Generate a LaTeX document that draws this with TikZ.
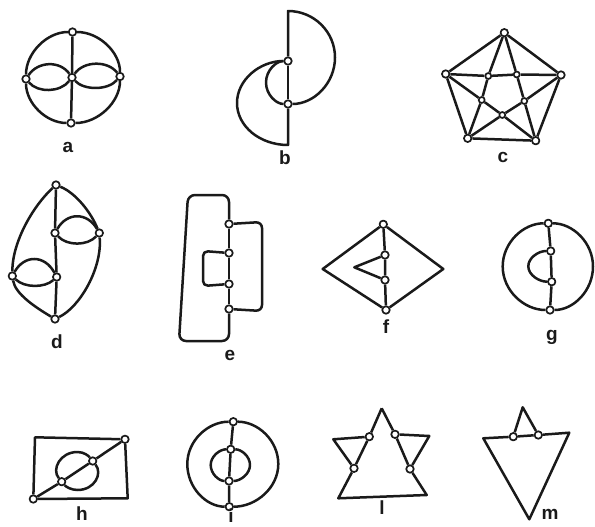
\documentclass[tikz,border=0pt]{standalone}
\usepackage{fontspec}
\setsansfont{Liberation Sans}
\usepackage{tikz}
\definecolor{inkblack}{HTML}{1A1A1A}
\tikzset{every node/.append style={font=\sffamily\bfseries\fontsize{19}{19}\selectfont}}

\begin{document}
\begin{tikzpicture}[x=1pt,y=-1pt,line width=2.5pt,line join=round,color=inkblack,
  vtx/.style={circle,draw=inkblack,fill=white,line width=1.7pt,inner sep=0pt,minimum size=7.5pt},
  svtx/.style={vtx,minimum size=6pt},
  lbl/.style={inner sep=0pt,text=inkblack}]
\useasboundingbox (0,0) rectangle (595,527);
% a
\node[vtx] (aT) at (72.5,32) {}; \node[vtx] (aR) at (120,76.5) {};
\node[vtx] (aB) at (71,123) {}; \node[vtx] (aL) at (26,79) {};
\node[vtx] (aC) at (72,77.5) {};
\draw (aT) -- (aC) -- (aB);
\draw (aT) .. controls +(26.2,0) and +(0,-24.6) .. (aR);
\draw (aR) .. controls +(0,25.7) and +(27,0) .. (aB);
\draw (aB) .. controls +(-24.8,0) and +(0,24.3) .. (aL);
\draw (aL) .. controls +(0,-25.9) and +(-25.7,0) .. (aT);
\draw (aL) .. controls +(12,-18) and +(-12,-17) .. (aC);
\draw (aL) .. controls +(12,14) and +(-12,15) .. (aC);
\draw (aC) .. controls +(12,-17) and +(-12,-16) .. (aR);
\draw (aC) .. controls +(12,13) and +(-12,14) .. (aR);
\node[lbl] (alab) at (68,147) {a};
% b
\coordinate (bTop) at (288,11); \coordinate (bBot) at (288,145);
\node[vtx] (bU) at (288,61) {}; \node[vtx] (bD) at (288,104) {};
\draw (bU) -- (bD);
\draw (bU) -- (bTop) .. controls +(26,0) and +(0,-25.7) .. (335,57.5) .. controls +(0,25.7) and +(26,0) .. (bD);
\draw (bD) -- (bBot) .. controls +(-28.2,0) and +(0,23.2) .. (237,103) .. controls +(0,-23.2) and +(-28.2,0) .. (bU);
\draw (bU) .. controls +(-12,0) and +(0,-11.9) .. (266,82.5) .. controls +(0,11.9) and +(-12,0) .. (bD);
\node[lbl] (blab) at (285,158) {b};
% c
\node[vtx] (cT) at (504.3,32.7) {}; \node[vtx] (cL) at (445.7,74) {};
\node[vtx] (cR) at (561,75) {}; \node[vtx] (cBL) at (467.7,138.3) {};
\node[vtx] (cBR) at (535.7,140.7) {};
\node[svtx] (cUL) at (488.3,76) {}; \node[svtx] (cUR) at (516.7,74.5) {};
\node[svtx] (cLL) at (481.7,100) {}; \node[svtx] (cLR) at (524.3,101) {};
\node[svtx] (cB) at (502.3,115) {};
\draw (cT) -- (cR) -- (cBR) -- (cBL) -- (cL) -- (cT);
\draw (cL) -- (cUL) -- (cUR) -- (cR);
\draw (cT) -- (cUL) -- (cLL) -- (cBL);
\draw (cT) -- (cUR) -- (cLR) -- (cBR);
\draw (cL) -- (cLL) -- (cB) -- (cBR);
\draw (cR) -- (cLR) -- (cB) -- (cBL);
\node[lbl] (clab) at (503,157) {c};
% d
\node[vtx] (dT) at (56,185) {}; \node[vtx] (dM1) at (55,233) {};
\node[vtx] (dR) at (99.3,233) {}; \node[vtx] (dL) at (12.3,276) {};
\node[vtx] (dM2) at (56.7,277) {}; \node[vtx] (dB) at (55,319) {};
\draw (dT) -- (dM1) -- (dM2) -- (dB);
\draw (dT) .. controls +(-22,20) and +(0,-35) .. (dL);
\draw (dL) .. controls +(3,18) and +(-20,-12) .. (dB);
\draw (dT) .. controls +(20,8) and +(-8,-20) .. (dR);
\draw (dR) .. controls +(3,35) and +(25,-12) .. (dB);
\draw (dM1) .. controls +(12,-21) and +(-12,-21) .. (dR);
\draw (dM1) .. controls +(12,13) and +(-12,13) .. (dR);
\draw (dL) .. controls +(12,-21.5) and +(-12,-22.5) .. (dM2);
\draw (dL) .. controls +(12,12) and +(-12,11) .. (dM2);
\node[lbl] (dlab) at (57,342) {d};
% e
\node[vtx] (e1) at (229,224) {}; \node[vtx] (e2) at (229,253) {};
\node[vtx] (e3) at (229,284) {}; \node[vtx] (e4) at (229,309) {};
\draw (e1) -- (e2) -- (e3) -- (e4);
\draw[rounded corners=7] (e1) -- (229,195) -- (188,195) -- (179,341) -- (229,341) -- (e4);
\draw[rounded corners=6] (e1) -- (262,222) -- (262,311) -- (e4);
\draw[rounded corners=5] (e2) -- (203,251) -- (203,286) -- (e3);
\node[lbl] (elab) at (230,355) {e};
% f
\coordinate (fL) at (322.7,269); \coordinate (fR) at (443.3,269); \coordinate (fTip) at (354.3,267.3);
\node[vtx] (fT) at (383.3,224.3) {}; \node[vtx] (f2) at (385,255) {};
\node[vtx] (f3) at (385,280) {}; \node[vtx] (fB) at (386,310) {};
\draw (fT) -- (f2) -- (f3) -- (fB);
\draw (fT) -- (fL) -- (fB) -- (fR) -- (fT);
\draw (f2) -- (fTip) -- (f3);
\node[lbl] (flab) at (386,327) {f};
% g
\node[vtx] (gT) at (548.3,223.3) {}; \node[vtx] (g2) at (550.7,251) {};
\node[vtx] (g3) at (551.7,281.7) {}; \node[vtx] (gB) at (550,310) {};
\draw (gT) -- (g2) -- (g3) -- (gB);
\draw (gT) .. controls +(24.7,0) and +(0,-23.8) .. (593,266.5) .. controls +(0,24) and +(23.7,0) .. (gB);
\draw (gT) .. controls +(-25.2,0) and +(0,-23.8) .. (502.7,266.5) .. controls +(0,24) and +(-26.1,0) .. (gB);
\draw (g2) .. controls +(-12.4,0) and +(0,-8.4) .. (528.3,266.3) .. controls +(0,8.5) and +(-12.9,0) .. (g3);
\node[lbl] (glab) at (552,337) {g};
% h
\node[vtx] (hA) at (33.3,499) {}; \node[vtx] (hB) at (125,439.3) {};
\node[vtx] (h1) at (61.7,481.7) {}; \node[vtx] (h2) at (92.7,461) {};
\draw (hA) -- (35,437.3) -- (hB) -- (127.7,498.3) -- (hA);
\draw (hA) -- (h1) -- (h2) -- (hB);
\draw (h1) .. controls +(-10.4,-12.5) and +(-17.3,0) .. (77.5,452) .. controls +(6.7,0) and +(-3.9,-4.9) .. (h2);
\draw (h2) .. controls +(10.1,12.6) and +(17.2,0) .. (77.5,490) .. controls +(-6.6,0) and +(4,4.8) .. (h1);
\node[lbl] (hlab) at (82,514) {h};
% i
\node[vtx] (iT) at (233.3,421.7) {}; \node[vtx] (i2) at (230.7,449.3) {};
\node[vtx] (i3) at (229,481) {}; \node[vtx] (iB) at (229.3,506.7) {};
\draw (iT) -- (i2) -- (i3) -- (iB);
\draw (iT) .. controls +(24.8,0) and +(0,-23.4) .. (278.3,464) .. controls +(0,23.6) and +(27,0) .. (iB);
\draw (iT) .. controls +(-25.4,0) and +(0,-23.4) .. (187.3,464) .. controls +(0,23.6) and +(-23.2,0) .. (iB);
\draw (i2) .. controls +(10.7,0) and +(0,-8.7) .. (250,465) .. controls +(0,8.8) and +(11.6,0) .. (i3);
\draw (i2) .. controls +(-11,0) and +(0,-8.7) .. (210.7,465) .. controls +(0,8.8) and +(-10.1,0) .. (i3);
\node[lbl] (ilab) at (231,516) {i};
% l
\coordinate (lA) at (381.7,408.3); \coordinate (lBL) at (338.3,498.3); \coordinate (lBR) at (426.7,495);
\coordinate (lCL) at (333.3,439.3); \coordinate (lCR) at (429.3,436);
\node[vtx] (lUL) at (369.3,436.7) {}; \node[vtx] (lUR) at (395,434.3) {};
\node[vtx] (lLL) at (354,468.3) {}; \node[vtx] (lLR) at (410,469) {};
\draw (lA) -- (lUL) -- (lLL) -- (lBL) -- (lBR) -- (lLR) -- (lUR) -- (lA);
\draw (lUL) -- (lCL) -- (lLL);
\draw (lUR) -- (lCR) -- (lLR);
\node[lbl] (llab) at (382,508) {l};
% m
\coordinate (mA) at (522.7,407.3); \coordinate (mTL) at (483.3,438.3);
\coordinate (mTR) at (569.3,432.7); \coordinate (mBot) at (529.3,519.3);
\node[vtx] (m1) at (513.3,436.7) {}; \node[vtx] (m2) at (538.3,435) {};
\draw (m2) -- (mTR) -- (mBot) -- (mTL) -- (m1) -- (m2);
\draw (m1) -- (mA) -- (m2);
\node[lbl] (mlab) at (550,514) {m};
\end{tikzpicture}
\end{document}
